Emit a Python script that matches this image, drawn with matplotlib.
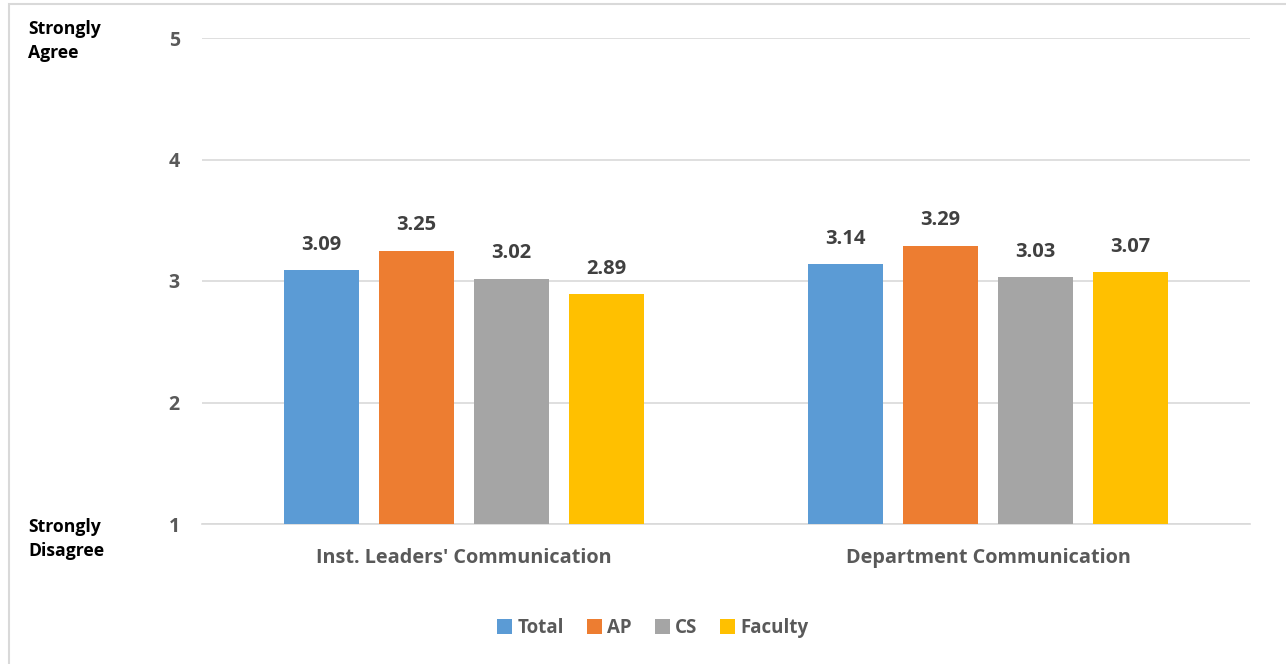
import matplotlib
matplotlib.use("Agg")
import matplotlib.pyplot as plt
from matplotlib.patches import Rectangle
import numpy as np

categories = ["Inst. Leaders' Communication", "Department Communication"]
series_names = ["Total", "AP", "CS", "Faculty"]
total = [3.09, 3.14]
ap = [3.25, 3.29]
cs = [3.02, 3.03]
faculty = [2.89, 3.07]
y_ticks = [1, 2, 3, 4, 5]

colors = ["#5B9BD5", "#ED7D31", "#A5A5A5", "#FFC000"]
text_gray = "#595959"
font = "Open Sans"

fig = plt.figure(figsize=(12.86, 6.64), dpi=100)
ax = fig.add_axes([202 / 1286, 140 / 664, 1048 / 1286, 486 / 664])

# outer chart border
fig.patches.append(Rectangle((9 / 1286, -0.05), 1.1, 0.05 + 660 / 664,
                             transform=fig.transFigure, fill=False,
                             edgecolor="#D9D9D9", linewidth=1.5))

x = np.arange(len(categories))
width = 75 / 524
step = 95 / 524
values = [total, ap, cs, faculty]
for i, (name, vals, c) in enumerate(zip(series_names, values, colors)):
    pos = x + (i - 1.5) * step
    ax.bar(pos, [v - 1 for v in vals], width, bottom=1, color=c, label=name, zorder=3)
    for px, v in zip(pos, vals):
        ax.annotate(f"{v:.2f}", (px, v), xytext=(0, 11), textcoords="offset points",
                    ha="center", va="bottom", fontsize=14.5, fontweight="bold",
                    color="#404040", family=font)

ax.set_xlim(-0.5, 1.5)
ax.set_ylim(1, 5)
ax.set_yticks(y_ticks)
ax.set_yticklabels([str(t) for t in y_ticks], fontsize=14, fontweight="bold",
                   color=text_gray, family=font)
ax.set_xticks(x)
ax.set_xticklabels(categories, fontsize=14.3, fontweight="bold", color=text_gray, family=font)
ax.tick_params(axis="y", length=0, pad=16)
ax.tick_params(axis="x", length=0, pad=17)
ax.grid(axis="y", color="#D9D9D9", linewidth=1.2, zorder=0)
for s in ["top", "right", "left"]:
    ax.spines[s].set_visible(False)
ax.spines["bottom"].set_color("#D9D9D9")
ax.spines["bottom"].set_linewidth(1.2)

fig.text(28 / 1286, 1 - 41 / 664, "Strongly\nAgree", ha="left", va="center",
         fontsize=12.7, fontweight="bold", color="black", family=font, linespacing=1.45)
fig.text(28 / 1286, 1 - 539 / 664, "Strongly\nDisagree", ha="left", va="center",
         fontsize=12.7, fontweight="bold", color="black", family=font, linespacing=1.45)

leg = fig.legend(loc="center", bbox_to_anchor=(653 / 1286, 1 - 628 / 664), ncol=4,
                 frameon=False, handlelength=0.8, handleheight=0.8, handletextpad=0.3,
                 columnspacing=1.2, prop={"family": font, "weight": "bold", "size": 13.5})
for t in leg.get_texts():
    t.set_color(text_gray)

fig.savefig("out.png", dpi=100)
